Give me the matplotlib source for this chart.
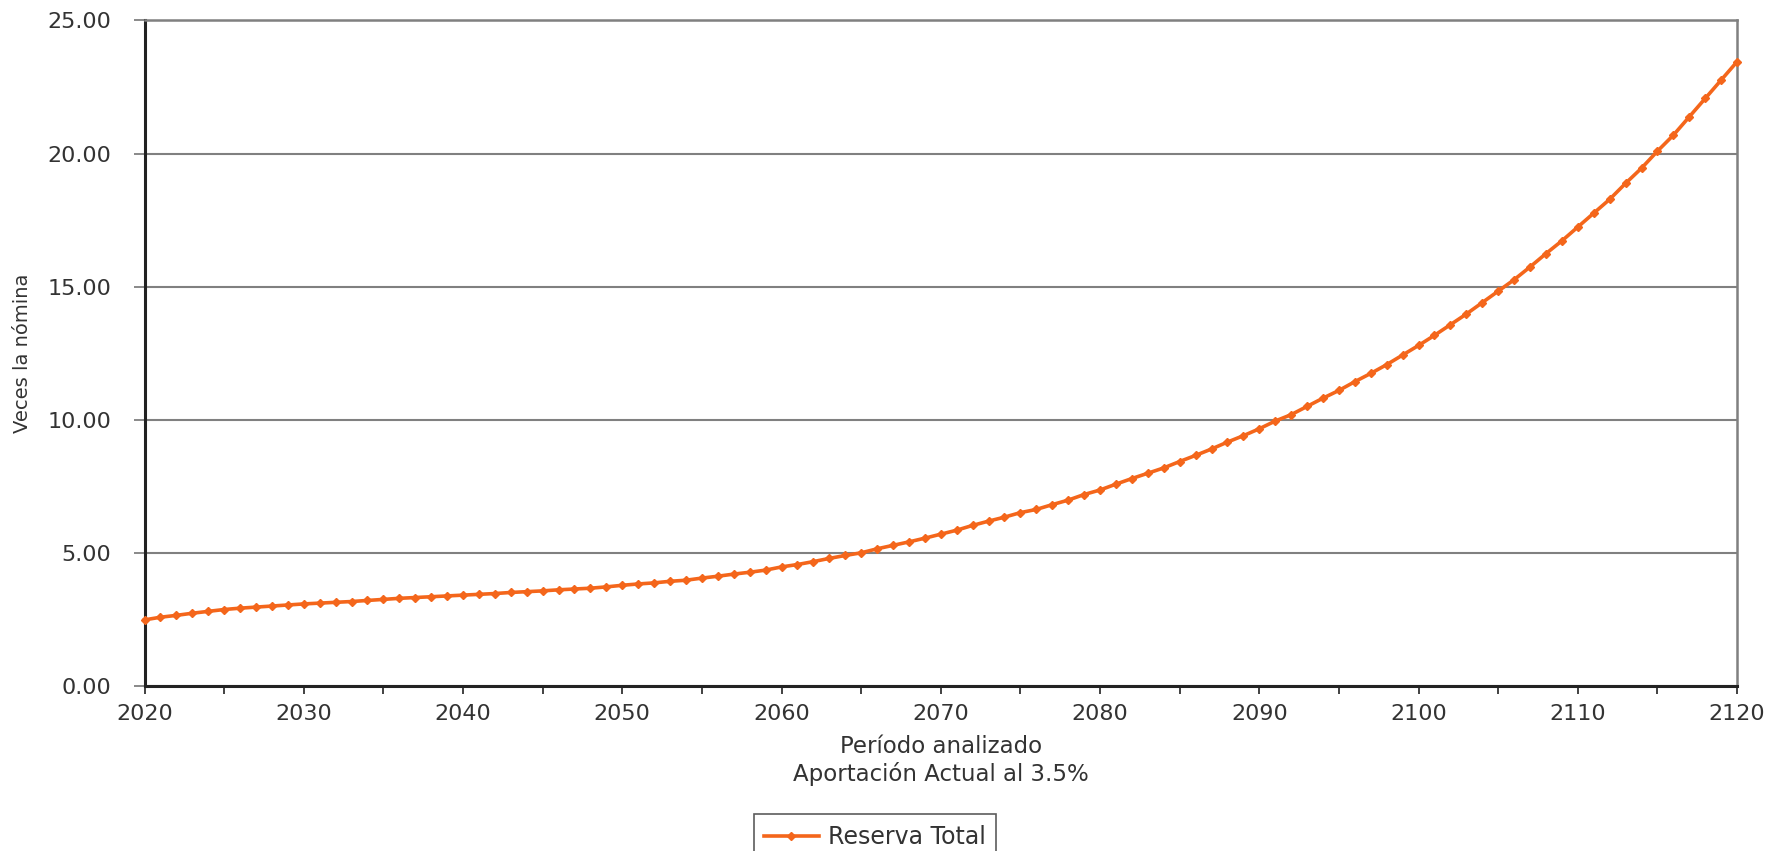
import matplotlib
matplotlib.use("Agg")
import matplotlib.pyplot as plt
from matplotlib.ticker import MultipleLocator, FuncFormatter

years = list(range(2020, 2121))
reserva_total = [
    2.48, 2.58, 2.65, 2.73, 2.80, 2.87, 2.92, 2.96, 3.00, 3.04,   # 2020-2029
    3.08, 3.11, 3.14, 3.17, 3.21, 3.25, 3.29, 3.32, 3.35, 3.38,   # 2030-2039
    3.41, 3.44, 3.47, 3.51, 3.54, 3.57, 3.61, 3.64, 3.67, 3.72,   # 2040-2049
    3.78, 3.83, 3.87, 3.93, 3.97, 4.05, 4.12, 4.20, 4.27, 4.35,   # 2050-2059
    4.47, 4.56, 4.67, 4.79, 4.90, 5.00, 5.15, 5.28, 5.41, 5.55,   # 2060-2069
    5.70, 5.85, 6.03, 6.19, 6.34, 6.51, 6.63, 6.81, 6.98, 7.19,   # 2070-2079
    7.36, 7.58, 7.79, 7.99, 8.19, 8.43, 8.66, 8.90, 9.16, 9.40,   # 2080-2089
    9.66, 9.95, 10.19, 10.50, 10.81, 11.10, 11.43, 11.74, 12.07, 12.43,  # 2090-2099
    12.79, 13.17, 13.57, 13.97, 14.40, 14.83, 15.26, 15.74, 16.24, 16.72,  # 2100-2109
    17.24, 17.76, 18.28, 18.88, 19.45, 20.09, 20.69, 21.38, 22.07, 22.76,  # 2110-2119
    23.45,  # 2120
]

plt.rcParams['font.family'] = ['DejaVu Sans']
txt = '#333333'

fig = plt.figure(figsize=(17.84, 8.51), dpi=100)
ax = fig.add_axes([0.081, 0.194, 0.8927, 0.782])

ax.plot(years, reserva_total, '-D', color='#F4661B', lw=2.6, ms=4.2,
        label='Reserva Total', zorder=3, clip_on=False)

ax.set_xlim(2020, 2120)
ax.set_ylim(0, 25)
ax.xaxis.set_major_locator(MultipleLocator(5))
ax.xaxis.set_major_formatter(FuncFormatter(lambda v, p: '%d' % v if int(v) % 10 == 0 else ''))
ax.yaxis.set_major_locator(MultipleLocator(5))
ax.yaxis.set_major_formatter(FuncFormatter(lambda v, p: '%.2f' % v))

ax.grid(True, axis='y', color='#808080', lw=1.5, zorder=0)
ax.tick_params(axis='x', direction='out', length=6, width=1.3, colors=txt,
               labelsize=16, pad=7)
ax.tick_params(axis='y', direction='out', length=8, width=1.3, colors='#808080',
               labelcolor=txt, labelsize=16, pad=16)

for s in ('top', 'right'):
    ax.spines[s].set_color('#808080')
    ax.spines[s].set_linewidth(1.8)
for s in ('left', 'bottom'):
    ax.spines[s].set_color('#222222')
    ax.spines[s].set_linewidth(2.2)

ax.set_ylabel('Veces la nómina', fontsize=14, color=txt, labelpad=11)
ax.set_xlabel('Período analizado\nAportación Actual al 3.5%', fontsize=16.5, color=txt,
              linespacing=1.2, labelpad=8)

leg = fig.legend(loc='upper center', bbox_to_anchor=(0.4905, 0.057), fontsize=17,
                 frameon=True, fancybox=False, edgecolor='#333333', borderpad=0.45,
                 handlelength=2.3, handletextpad=0.4)
leg.get_frame().set_linewidth(1.2)
for t in leg.get_texts():
    t.set_color(txt)

fig.savefig('out.png', dpi=100)
